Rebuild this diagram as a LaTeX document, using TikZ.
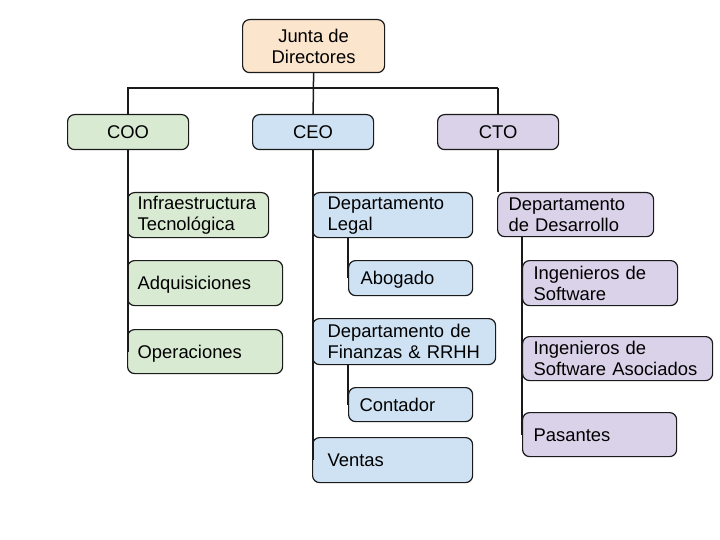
\documentclass[tikz,border=0pt]{standalone}
\usepackage{fontspec}
\setmainfont{Liberation Sans}
\definecolor{cpeach}{HTML}{FCE5CD}
\definecolor{cgreen}{HTML}{D9EAD3}
\definecolor{cblue}{HTML}{CFE2F3}
\definecolor{cpurple}{HTML}{D9D2E9}
\definecolor{cline}{HTML}{1A1A1A}
\tikzset{
  box/.style={draw=cline, line width=1.2pt, rounded corners=7pt, anchor=north west,
    inner ysep=0pt, font=\fontsize{18.4}{21}\selectfont, text=black},
  cbox/.style={box, align=center, inner xsep=4pt},
  lbox/.style={box, align=left},
  oneline/.style={text height=13.2pt, text depth=0pt},
  conn/.style={draw=cline, line width=1.5pt}
}
\begin{document}
\begin{tikzpicture}[x=1pt,y=-1pt]
\useasboundingbox (0,0) rectangle (720,540);
% top level
\node[cbox, fill=cpeach, minimum width=142pt, minimum height=53pt] (junta) at (242,19) {Junta de\\Directores};
\node[cbox, oneline, fill=cgreen, minimum width=121pt, minimum height=35pt] (coo) at (67,114) {COO};
\node[cbox, oneline, fill=cblue, minimum width=121pt, minimum height=35pt] (ceo) at (252,114) {CEO};
\node[cbox, oneline, fill=cpurple, minimum width=121pt, minimum height=35pt] (cto) at (437,114) {CTO};
% COO children
\node[lbox, fill=cgreen, inner xsep=10pt, text width=121pt, minimum height=45pt] (infra) at (127,192) {Infraestructura\\Tecnológica};
\node[lbox, oneline, fill=cgreen, inner xsep=10pt, text width=135pt, minimum height=45pt] (adq) at (127,260) {Adquisiciones};
\node[lbox, oneline, fill=cgreen, inner xsep=10pt, text width=135pt, minimum height=44pt] (oper) at (127,329) {Operaciones};
% CEO children
\node[lbox, fill=cblue, inner xsep=15pt, text width=130pt, minimum height=45pt] (legal) at (312,192) {Departamento\\Legal};
\node[lbox, oneline, fill=cblue, inner xsep=12pt, text width=100pt, minimum height=35pt] (abogado) at (348,260) {Abogado};
\node[lbox, fill=cblue, inner xsep=15pt, text width=153pt, minimum height=46pt] (finanzas) at (312,318) {Departamento de\\Finanzas \& RRHH};
\node[lbox, oneline, fill=cblue, inner xsep=11pt, text width=102pt, minimum height=34pt] (contador) at (348,387) {Contador};
\node[lbox, oneline, fill=cblue, inner xsep=15pt, text width=130pt, minimum height=45pt] (ventas) at (312,437) {Ventas};
% CTO children
\node[lbox, fill=cpurple, inner xsep=11pt, text width=134pt, minimum height=44pt] (desarrollo) at (497,192) {Departamento\\de Desarrollo};
\node[lbox, fill=cpurple, inner xsep=11pt, text width=133pt, minimum height=45pt] (ingsoft) at (522,260) {Ingenieros de\\Software};
\node[lbox, fill=cpurple, inner xsep=11pt, text width=168pt, minimum height=44pt] (ingasoc) at (522,336) {Ingenieros de\\Software Asociados};
\node[lbox, oneline, fill=cpurple, inner xsep=11pt, text width=132pt, minimum height=44pt] (pasantes) at (522,412) {Pasantes};
% connectors
\coordinate (barL) at (127,88);
\coordinate (barR) at (498,88);
\path[conn] (barL) -- (barR);
\path[conn] (junta.south) -- (ceo.north);
\path[conn] (coo.north) -- (coo.north |- barL);
\path[conn] (cto.north) -- (cto.north |- barR);
\path[conn] (coo.south) -- (coo.south |- oper.west);
\path[conn] (ceo.south) -- (ceo.south |- ventas.west);
\path[conn] (cto.south) -- (cto.south |- desarrollo.north);
\path[conn] (legal.south -| abogado.west) -- (abogado.west);
\path[conn] (finanzas.south -| contador.west) -- (contador.west);
\path[conn] (desarrollo.south -| pasantes.west) -- (pasantes.west);
\end{tikzpicture}
\end{document}
